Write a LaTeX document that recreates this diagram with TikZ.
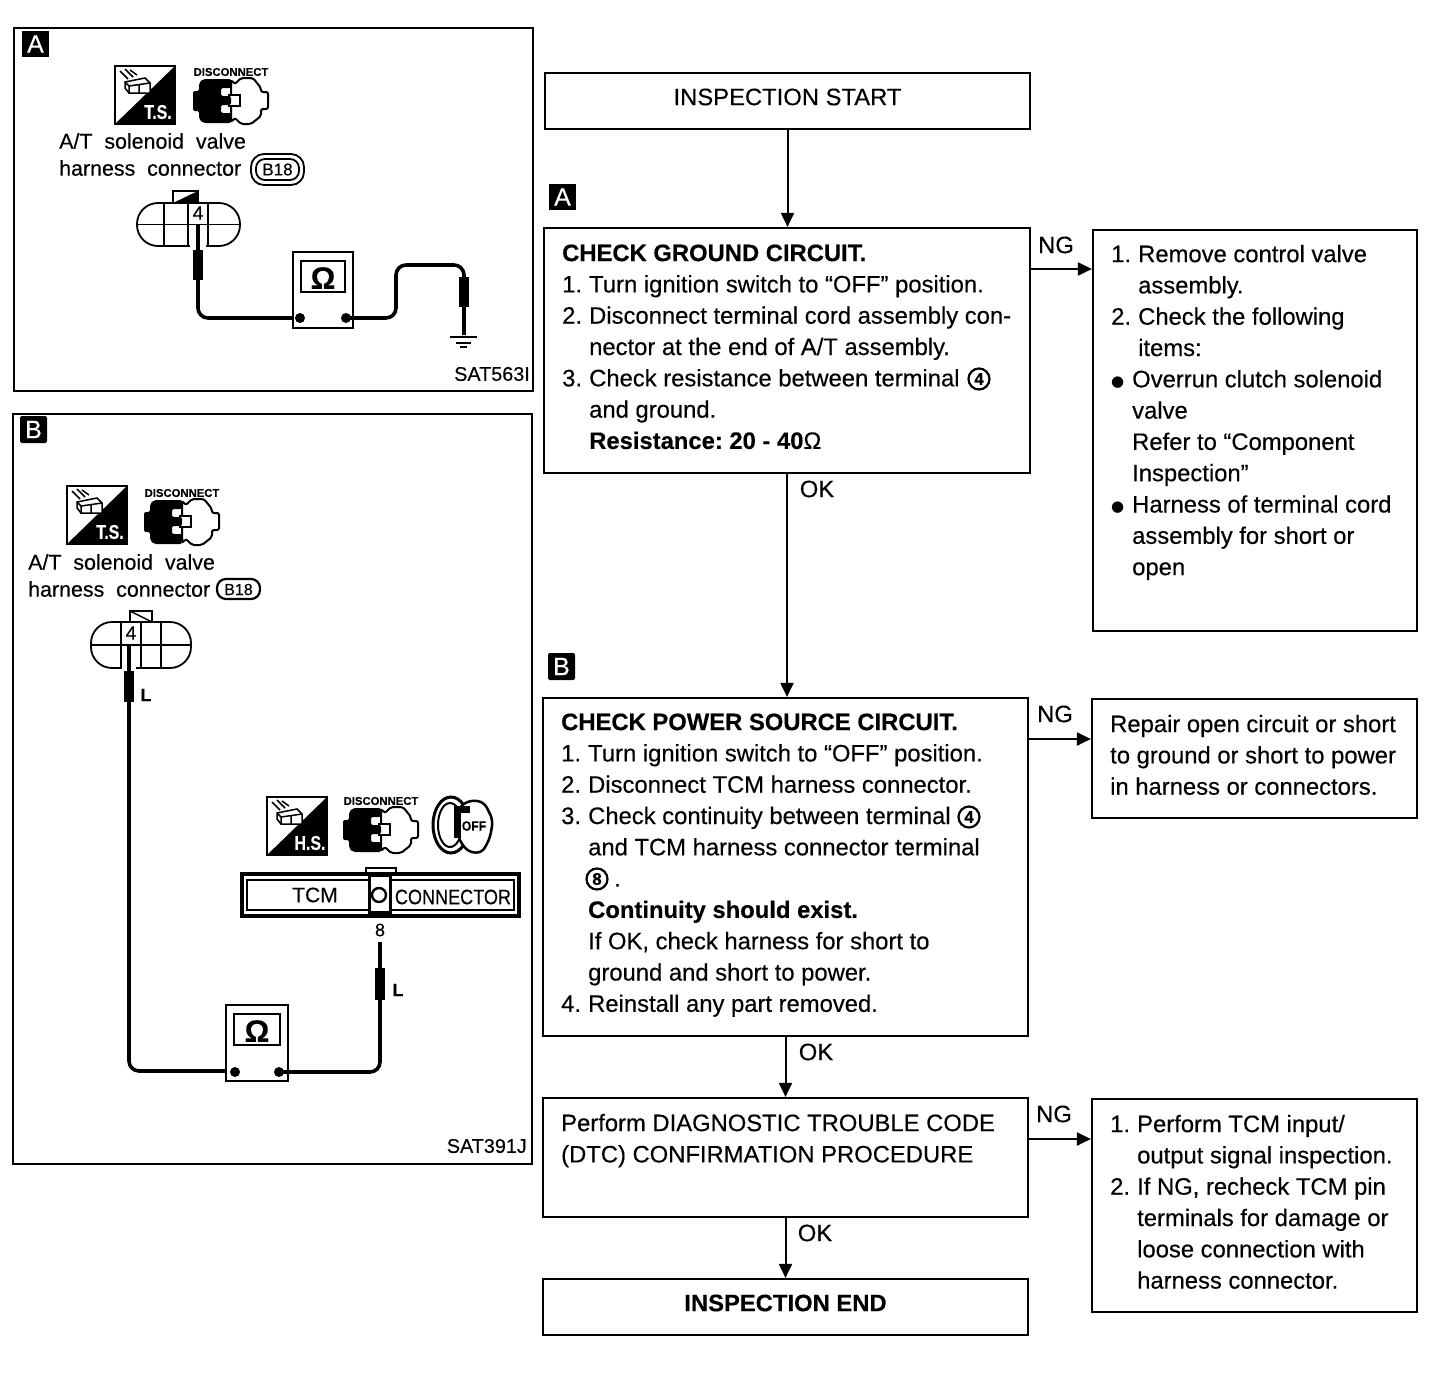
\documentclass[tikz,border=0pt]{standalone}
\usepackage{fontspec}
\setmainfont{Liberation Sans}[FakeBold=0.3]
\newfontfamily\dejavu{DejaVu Sans}
\usetikzlibrary{arrows.meta,calc}
\newcommand{\nm}[1]{\makebox[27pt][l]{#1}}
\newcommand{\ind}{\hspace*{27pt}}
\newcommand{\bl}{\makebox[21pt][l]{\raisebox{1pt}{\dejavu\fontsize{15}{15}\selectfont ●}}}
\tikzset{
  x=1pt,y=-1pt,
  flowbox/.style={draw=black,line width=2.2pt,fill=white,inner sep=0,minimum width=#1},
  body/.style={anchor=north west,inner sep=0,align=left,font=\frenchspacing\fontsize{23.8}{31.3}\selectfont},
  lab/.style={inner sep=0,font=\fontsize{23.8}{25}\selectfont},
  arr/.style={line width=2pt,-{Triangle[length=14pt,width=13pt]}},
  panel/.style={draw=black,line width=2.2pt,fill=white},
  captxt/.style={inner sep=0,anchor=west,font=\fontsize{21.4}{23}\selectfont},
  wire/.style={line width=3.6pt,rounded corners=10pt},
  ringnum/.style={circle,draw=black,line width=2.2pt,inner sep=0,minimum size=21pt,font=\bfseries\fontsize{17}{17}\selectfont}
}
% T.S./H.S. icon
\newcommand{\sqicon}[4]{%
 \begin{scope}[shift={(#1,#2)}]
  \draw[line width=1.8pt,fill=white] (0,0) rectangle (60,58);
  \fill (60,0) -- (60,58) -- (0,58) -- cycle;
  \node[inner sep=0,text=white,font=\bfseries\fontsize{20}{20}\selectfont,xscale=.8] (#4) at (43,46) {#3};
  \draw[line width=1.5pt,fill=white] (10,16) -- (30,12) -- (35,17) -- (35,27) -- (14,27) -- (10,22) -- cycle;
  \draw[line width=1.5pt] (10,16) -- (14,20) -- (14,27) (14,20) -- (35,17) (24,18) -- (24,27) (5,5) -- (13,13) (10,3) -- (18,11) (15,4) -- (22,9);
 \end{scope}}
% disconnect icon
\newcommand{\discicon}[3]{%
 \begin{scope}[shift={(#1,#2)}]
  \node[inner sep=0,font=\bfseries\fontsize{11.3}{12}\selectfont] (#3) at (38,-6) {DISCONNECT};
  \draw[line width=2pt,fill=white,rounded corners=2pt] (38,2) -- (42,6) -- (48,0) -- (60,0) -- (68,10) -- (68,14) -- (75,14) -- (75,31) -- (68,31) -- (68,38) -- (58,46) -- (48,46) -- (42,40) -- (38,44) -- cycle;
  \draw[line width=2pt,fill=white] (36,17) rectangle (47,28);
  \fill[rounded corners=2pt] (0,13) -- (6,13) -- (6,5) -- (10,1) -- (38,1) -- (38,10) -- (28,10) -- (28,18) -- (38,18) -- (38,27) -- (28,27) -- (28,35) -- (38,35) -- (38,45) -- (10,45) -- (6,41) -- (6,33) -- (0,33) -- cycle;
 \end{scope}}
% oval connector
\newcommand{\ovalconn}[7]{% x1,y1,x2,y2,vx1,vx2,vx3
  \draw[line width=1.8pt,fill=white,rounded corners=21pt] (#1,#2) rectangle (#3,#4);
  \draw[line width=1.8pt] (#1,{(#2+#4)/2}) -- (#3,{(#2+#4)/2}) (#5,#2) -- (#5,#4) (#6,#2) -- (#6,#4) (#7,#2) -- (#7,#4);
}
% ohm meter
\newcommand{\ohmmeter}[5]{% x1,y1,x2,y2,name
  \draw[line width=2.4pt,fill=white] (#1,#2) rectangle (#3,#4);
  \draw[line width=2.4pt] ($(#1,#2)+(8,9)$) rectangle ($(#3,#2)+(-8,40)$);
  \node[inner sep=0,font=\bfseries\fontsize{31}{31}\selectfont] (#5) at ($({(#1+#3)/2},#2)+(0,26)$) {Ω};
}
\begin{document}
\begin{tikzpicture}
\useasboundingbox (0,0) rectangle (1456,1376);
\fill[white] (0,0) rectangle (1456,1376);
% Panel A
\draw[panel] (14,28) rectangle (533,391);
\fill (22,31) rectangle (49,57);
\node[inner sep=0,text=white,font=\fontsize{25}{25}\selectfont] (pa) at (35.5,44) {A};
\sqicon{115}{66}{T.S.}{tsa}
\discicon{193}{78}{disa}
\node[captxt] (ca1) at (59,141) {A/T\ \ solenoid\ \ valve};
\node[captxt] (ca2) at (59,168) {harness\ \ connector};
\draw[line width=1.8pt,rounded corners=13pt] (251,154) rectangle (304,185);
\draw[line width=1.8pt,rounded corners=9pt] (256,159) rectangle (299,180);
\node[inner sep=0,font=\fontsize{17}{17}\selectfont] (ba) at (277.5,169.5) {B18};
\draw[line width=1.8pt,fill=white] (173,203) -- (173,191) -- (198,191) -- (198,203);
\fill (173,203) -- (198,191) -- (198,203) -- cycle;
\ovalconn{137}{203}{240}{246}{164}{188}{208}
\fill[white] (189,206) rectangle (207,222);
\fill[white] (190,243) rectangle (206,249);
\node[inner sep=0,font=\fontsize{19}{19}\selectfont] (a4) at (198,213) {4};
\draw[wire] (198,224) -- (198,318) -- (300,318);
\fill (193,250) rectangle (203,280);
\ohmmeter{293}{252}{353}{328}{oa}
\fill (300,318) circle (5);
\draw[wire] (346,318) -- (396,318) -- (396,265) -- (464,265) -- (464,335);
\fill (346,318) circle (5);
\fill (459,277) rectangle (469,307);
\draw[line width=2.5pt] (450,337) -- (477,337) (456,343) -- (471,343) (460,347) -- (467,347);
\node[inner sep=0,anchor=east,font=\fontsize{19.8}{20}\selectfont] (sa) at (530,374) {SAT563I};
% Panel B
\draw[panel] (13,414) rectangle (532,1164);
\fill[rounded corners=2pt] (20,416) rectangle (47,443);
\node[inner sep=0,text=white,font=\fontsize{25}{25}\selectfont] (pb) at (33.5,429.5) {B};
\sqicon{67}{486}{T.S.}{tsb}
\discicon{144}{499}{disb}
\node[captxt] (cb1) at (28,562) {A/T\ \ solenoid\ \ valve};
\node[captxt] (cb2) at (28,589) {harness\ \ connector};
\draw[line width=2.2pt,rounded corners=9pt] (217,579) rectangle (260,599);
\node[inner sep=0,font=\fontsize{16}{16}\selectfont] (bb) at (238.5,589.5) {B18};
\draw[line width=1.8pt,fill=white] (130,622) -- (130,611) -- (152,611) -- (152,622);
\draw[line width=1.5pt] (130,611) -- (152,622);
\ovalconn{91}{622}{191}{668}{121}{141}{161}
\fill[white] (122,625) rectangle (140,643);
\fill[white] (122,665) rectangle (136,670);
\node[inner sep=0,font=\fontsize{19}{19}\selectfont] (b4) at (131,633) {4};
\draw[wire] (129,645) -- (129,1071) -- (235,1071);
\fill (124,671) rectangle (134,702);
\node[inner sep=0,font=\bfseries\fontsize{18}{18}\selectfont] (bl1) at (146,695) {L};
\sqicon{267}{797}{H.S.}{hs}
\discicon{343}{807}{disc}
% key
\draw[line width=3pt,fill=white] (451,825) ellipse (18 and 28);
\draw[line width=2pt] (450,825) ellipse (12 and 22);
\draw[line width=2.5pt,fill=white,rounded corners=6pt] (458,808) -- (470,800) -- (484,802) -- (493,820) -- (490,838) -- (482,853) -- (468,852) -- (458,838) -- cycle;
\fill (454,806) rectangle (470,813);
\fill (454,806) rectangle (461,838);
\node[inner sep=0,font=\bfseries\fontsize{13.5}{14}\selectfont,xscale=.9] (off) at (474,826) {OFF};
% TCM connector
\draw[line width=2.2pt,fill=white] (366,874) -- (366,868) -- (396,868) -- (396,874);
\draw[line width=3.4pt,fill=white] (242,874) rectangle (519,916);
\draw[line width=2.2pt] (247,880) rectangle (514,910);
\draw[line width=3pt,fill=white] (369,875) rectangle (390,912);
\draw[line width=2.4pt] (379,895) circle (7);
\node[inner sep=0,font=\fontsize{21}{21}\selectfont] (tcm) at (315,895) {TCM};
\node[inner sep=0,font=\fontsize{21}{21}\selectfont,xscale=.86] (con) at (453,897) {CONNECTOR};
\node[inner sep=0,font=\fontsize{18}{18}\selectfont] (eight) at (380,930) {8};
\ohmmeter{226}{1005}{288}{1081}{ob}
\fill (235,1072) circle (5);
\draw[wire] (279,1072) -- (380,1072) -- (380,942);
\fill (279,1072) circle (5);
\fill (375,968) rectangle (385,1000);
\node[inner sep=0,font=\bfseries\fontsize{18}{18}\selectfont] (bl2) at (398,990) {L};
\node[inner sep=0,anchor=east,font=\fontsize{19.8}{20}\selectfont] (sb) at (527,1146) {SAT391J};
% Flow boxes
\node[flowbox=485pt,minimum height=56pt] (start) at (787.5,101) {};
\node[lab] (startt) at (787.5,97) {INSPECTION START};
\fill (549,184) rectangle (576,210);
\node[inner sep=0,text=white,font=\fontsize{25}{25}\selectfont] (la) at (562.5,197) {A};
\node[flowbox=486pt,minimum height=245pt] (chk1) at (787,350.5) {};
\node[body] (chk1t) at (562,239) {\strut\textbf{CHECK GROUND CIRCUIT.}\\
\nm{1.}Turn ignition switch to “OFF” position.\\
\nm{2.}Disconnect terminal cord assembly con-\\
\ind nector at the end of A/T assembly.\\
\nm{3.}Check resistance between terminal\\
\ind and ground.\\
\ind\textbf{Resistance: 20 - 40}Ω};
\node[ringnum] (r4a) at (979,379) {4};
\node[flowbox=324pt,minimum height=401pt] (fix1) at (1255,430.5) {};
\node[body] (fix1t) at (1111,240) {\strut\nm{1.}Remove control valve\\
\ind assembly.\\
\nm{2.}Check the following\\
\ind items:\\
\bl Overrun clutch solenoid\\
\hspace*{21pt}valve\\
\hspace*{21pt}Refer to “Component\\
\hspace*{21pt}Inspection”\\
\bl Harness of terminal cord\\
\hspace*{21pt}assembly for short or\\
\hspace*{21pt}open};
\fill[rounded corners=2pt] (548,653) rectangle (575,680);
\node[inner sep=0,text=white,font=\fontsize{25}{25}\selectfont] (lb) at (561.5,666.5) {B};
\node[flowbox=485pt,minimum height=338pt] (chk2) at (785.5,867) {};
\node[body] (chk2t) at (561,708) {\strut\textbf{CHECK POWER SOURCE CIRCUIT.}\\
\nm{1.}Turn ignition switch to “OFF” position.\\
\nm{2.}Disconnect TCM harness connector.\\
\nm{3.}Check continuity between terminal\\
\ind and TCM harness connector terminal\\
\hspace*{53pt}.\\
\ind\textbf{Continuity should exist.}\\
\ind If OK, check harness for short to\\
\ind ground and short to power.\\
\nm{4.}Reinstall any part removed.};
\node[ringnum] (r4b) at (969,817) {4};
\node[ringnum] (r8) at (597,879) {8};
\node[flowbox=325pt,minimum height=119pt] (fix2) at (1254.5,758.5) {};
\node[body] (fix2t) at (1110,710) {\strut Repair open circuit or short\\
to ground or short to power\\
in harness or connectors.};
\node[flowbox=485pt,minimum height=119pt] (dtc) at (785.5,1157.5) {};
\node[body] (dtct) at (561,1109) {\strut Perform DIAGNOSTIC TROUBLE CODE\\
(DTC) CONFIRMATION PROCEDURE};
\node[flowbox=325pt,minimum height=213pt] (fix3) at (1254.5,1205.5) {};
\node[body] (fix3t) at (1110,1110) {\strut\nm{1.}Perform TCM input/\\
\ind output signal inspection.\\
\nm{2.}If NG, recheck TCM pin\\
\ind terminals for damage or\\
\ind loose connection with\\
\ind harness connector.};
\node[flowbox=485pt,minimum height=56pt] (finish) at (785.5,1307) {};
\node[lab] (finisht) at (785.5,1303) {\textbf{INSPECTION END}};
% connectors
\draw[arr] (start) -- (start |- chk1.north);
\draw[arr] (chk1) -- (chk1 |- chk2.north);
\draw[arr] (chk2) -- (dtc);
\draw[arr] (dtc) -- (finish);
\coordinate (ng1) at (1030,269);
\coordinate (ng2) at (1028,739);
\coordinate (ng3) at (1028,1139);
\draw[arr] (ng1) -- (fix1.west |- ng1);
\draw[arr] (ng2) -- (fix2.west |- ng2);
\draw[arr] (ng3) -- (fix3.west |- ng3);
\node[lab] (n1) at (1056,245) {NG};
\node[lab] (n2) at (1055,714) {NG};
\node[lab] (n3) at (1054,1114) {NG};
\node[lab] (o1) at (817,489) {OK};
\node[lab] (o2) at (816,1052) {OK};
\node[lab] (o3) at (815,1233) {OK};
\end{tikzpicture}
\end{document}
